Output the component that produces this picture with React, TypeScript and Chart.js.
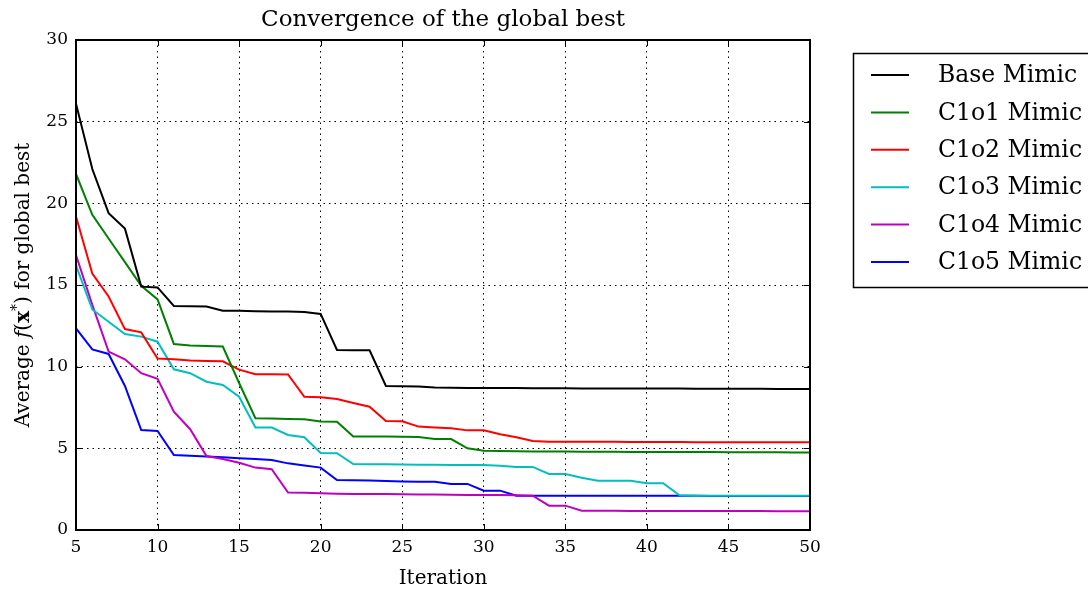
import React, { useEffect, useRef } from 'react';
import { Chart, registerables } from 'chart.js';

Chart.register(...registerables);

const TITLE = 'Convergence of the global best';
const X_TITLE = 'Iteration';
const FONT = "'DejaVu Serif', serif";

const iterations = [5, 6, 7, 8, 9, 10, 11, 12, 13, 14, 15, 16, 17, 18, 19, 20, 21, 22, 23, 24, 25, 26, 27, 28, 29, 30, 31, 32, 33, 34, 35, 36, 37, 38, 39, 40, 41, 42, 43, 44, 45, 46, 47, 48, 49, 50];

const xTicks = [5, 10, 15, 20, 25, 30, 35, 40, 45, 50];
const yTicks = [0, 5, 10, 15, 20, 25, 30];

const seriesLabels = ['Base Mimic', 'C1o1 Mimic', 'C1o2 Mimic', 'C1o3 Mimic', 'C1o4 Mimic', 'C1o5 Mimic'];
const seriesColors = ['#000000', '#008000', '#ff0000', '#00bfbf', '#bf00bf', '#0000ff'];

const baseMimic = [26.1, 22.1, 19.4, 18.45, 14.9, 14.85, 13.72, 13.7, 13.68, 13.43, 13.42, 13.4, 13.38, 13.37, 13.35, 13.23, 11.02, 11.01, 11.0, 8.82, 8.8, 8.78, 8.72, 8.71, 8.7, 8.7, 8.69, 8.69, 8.68, 8.68, 8.68, 8.67, 8.67, 8.67, 8.66, 8.66, 8.66, 8.66, 8.65, 8.65, 8.65, 8.65, 8.65, 8.64, 8.64, 8.64];
const c1o1Mimic = [21.8, 19.3, 17.85, 16.4, 14.95, 14.12, 11.39, 11.3, 11.27, 11.23, 9.0, 6.84, 6.82, 6.8, 6.78, 6.65, 6.63, 5.72, 5.72, 5.72, 5.71, 5.7, 5.57, 5.57, 5.0, 4.85, 4.83, 4.82, 4.81, 4.8, 4.8, 4.79, 4.79, 4.79, 4.78, 4.78, 4.78, 4.77, 4.77, 4.77, 4.76, 4.76, 4.76, 4.76, 4.75, 4.75];
const c1o2Mimic = [19.2, 15.7, 14.3, 12.3, 12.1, 10.5, 10.45, 10.38, 10.35, 10.33, 9.82, 9.54, 9.53, 9.52, 8.16, 8.13, 8.02, 7.78, 7.55, 6.67, 6.66, 6.33, 6.28, 6.23, 6.1, 6.1, 5.86, 5.68, 5.45, 5.41, 5.4, 5.4, 5.4, 5.4, 5.39, 5.39, 5.39, 5.39, 5.38, 5.38, 5.38, 5.38, 5.38, 5.37, 5.37, 5.37];
const c1o3Mimic = [16.2, 13.5, 12.75, 12.0, 11.84, 11.53, 9.84, 9.6, 9.08, 8.88, 8.16, 6.28, 6.27, 5.82, 5.68, 4.72, 4.7, 4.04, 4.03, 4.02, 4.01, 4.0, 3.99, 3.98, 3.98, 3.98, 3.94, 3.86, 3.86, 3.43, 3.43, 3.2, 3.02, 3.02, 3.02, 2.86, 2.86, 2.12, 2.1, 2.1, 2.1, 2.1, 2.09, 2.09, 2.09, 2.09];
const c1o4Mimic = [16.84, 13.78, 10.92, 10.45, 9.6, 9.25, 7.25, 6.17, 4.53, 4.35, 4.12, 3.82, 3.72, 2.29, 2.28, 2.25, 2.22, 2.21, 2.2, 2.2, 2.19, 2.18, 2.17, 2.16, 2.15, 2.15, 2.14, 2.12, 2.1, 1.49, 1.49, 1.18, 1.18, 1.18, 1.17, 1.17, 1.17, 1.17, 1.16, 1.16, 1.16, 1.16, 1.16, 1.15, 1.15, 1.15];
const c1o5Mimic = [12.35, 11.06, 10.78, 8.82, 6.12, 6.06, 4.59, 4.55, 4.5, 4.45, 4.39, 4.35, 4.29, 4.08, 3.95, 3.82, 3.06, 3.05, 3.03, 3.0, 2.97, 2.96, 2.96, 2.82, 2.82, 2.41, 2.41, 2.1, 2.1, 2.1, 2.1, 2.1, 2.1, 2.09, 2.09, 2.09, 2.09, 2.09, 2.09, 2.08, 2.08, 2.08, 2.08, 2.08, 2.08, 2.08];

const seriesValues = [baseMimic, c1o1Mimic, c1o2Mimic, c1o3Mimic, c1o4Mimic, c1o5Mimic];

const overlayPlugin = {
  id: 'overlay',
  afterDraw(chart: any) {
    const ctx = chart.ctx as CanvasRenderingContext2D;
    const { left, right, top, bottom } = chart.chartArea;
    const xs = chart.scales.x;
    const ys = chart.scales.y;
    ctx.save();
    ctx.strokeStyle = '#000';
    ctx.fillStyle = '#000';
    ctx.lineWidth = 1;
    const tl = 6;
    ctx.beginPath();
    xTicks.forEach((v) => {
      const px = Math.round(xs.getPixelForValue(v)) + 0.5;
      ctx.moveTo(px, bottom);
      ctx.lineTo(px, bottom - tl);
      ctx.moveTo(px, top);
      ctx.lineTo(px, top + tl);
    });
    yTicks.forEach((v) => {
      const py = Math.round(ys.getPixelForValue(v)) + 0.5;
      ctx.moveTo(left, py);
      ctx.lineTo(left + tl, py);
      ctx.moveTo(right, py);
      ctx.lineTo(right - tl, py);
    });
    ctx.stroke();
    ctx.lineWidth = 2;
    ctx.strokeRect(left, top, right - left, bottom - top);

    // Title
    ctx.textAlign = 'center';
    ctx.textBaseline = 'middle';
    ctx.font = `23px ${FONT}`;
    ctx.fillText(TITLE, (left + right) / 2, 20);

    // X title
    ctx.font = `20px ${FONT}`;
    ctx.fillText(X_TITLE, (left + right) / 2, 579);

    // Y title with mixed styles
    const pieces = [
      { t: 'Average ', f: `20px ${FONT}`, dy: 0 },
      { t: 'f', f: `italic 20px ${FONT}`, dy: 0 },
      { t: '(', f: `20px ${FONT}`, dy: 0 },
      { t: 'x', f: `bold 20px ${FONT}`, dy: 0 },
      { t: '*', f: `14px ${FONT}`, dy: -8 },
      { t: ') for global best', f: `20px ${FONT}`, dy: 0 },
    ];
    let total = 0;
    pieces.forEach((p) => {
      ctx.font = p.f;
      total += ctx.measureText(p.t).width;
    });
    ctx.translate(22, (top + bottom) / 2);
    ctx.rotate(-Math.PI / 2);
    ctx.textAlign = 'left';
    ctx.textBaseline = 'alphabetic';
    let cx = -total / 2;
    pieces.forEach((p) => {
      ctx.font = p.f;
      ctx.fillText(p.t, cx, 7 + p.dy);
      cx += ctx.measureText(p.t).width;
    });
    ctx.setTransform(1, 0, 0, 1, 0, 0);

    // Legend
    const bx = 853.5, by = 53.5, bh = 234;
    ctx.lineWidth = 1.5;
    ctx.strokeStyle = '#000';
    ctx.fillStyle = '#fff';
    ctx.fillRect(bx, by, 1100 - bx, bh);
    ctx.strokeRect(bx, by, 1100 - bx, bh);
    ctx.font = `23.5px ${FONT}`;
    ctx.textBaseline = 'middle';
    ctx.textAlign = 'left';
    chart.data.datasets.forEach((ds: any, i: number) => {
      const y = 75 + i * 37.4;
      ctx.strokeStyle = ds.borderColor;
      ctx.lineWidth = 2;
      ctx.beginPath();
      ctx.moveTo(871, y);
      ctx.lineTo(909, y);
      ctx.stroke();
      ctx.fillStyle = '#000';
      ctx.fillText(ds.label, 938, y + 1);
    });
    ctx.restore();
  },
};

export default function App() {
  const ref = useRef<HTMLCanvasElement | null>(null);
  useEffect(() => {
    if (!ref.current) return;
    const datasets = seriesLabels.map((label, i) => ({
      label,
      data: iterations.map((it, j) => ({ x: it, y: seriesValues[i][j] })),
      borderColor: seriesColors[i],
      backgroundColor: seriesColors[i],
      borderWidth: 2,
      pointRadius: 0,
      tension: 0,
      fill: false,
    }));
    const chart = new Chart(ref.current, {
      type: 'line',
      data: { datasets },
      options: {
        responsive: false,
        animation: false,
        devicePixelRatio: 1,
        layout: { padding: { left: 0, top: 40, right: 278, bottom: 0 } },
        plugins: { legend: { display: false }, title: { display: false }, tooltip: { enabled: false } },
        scales: {
          x: {
            type: 'linear',
            min: 5,
            max: 50,
            afterBuildTicks: (scale: any) => {
              scale.ticks = xTicks.map((v) => ({ value: v }));
            },
            afterFit: (scale: any) => {
              scale.height = 64;
            },
            ticks: { color: '#000', font: { family: FONT, size: 17 }, padding: 7, maxRotation: 0 },
            grid: { color: '#000', lineWidth: 1, drawTicks: false },
            border: { display: false, dash: [1.5, 4] },
          },
          y: {
            type: 'linear',
            min: 0,
            max: 30,
            afterBuildTicks: (scale: any) => {
              scale.ticks = yTicks.map((v) => ({ value: v }));
            },
            afterFit: (scale: any) => {
              scale.width = 76;
            },
            ticks: { color: '#000', font: { family: FONT, size: 17 }, padding: 8 },
            grid: { color: '#000', lineWidth: 1, drawTicks: false },
            border: { display: false, dash: [1.5, 4] },
          },
        },
      },
      plugins: [overlayPlugin],
    } as any);
    return () => chart.destroy();
  }, []);
  return (
    <div style={{ position: 'fixed', left: 0, top: 0, width: 1088, height: 594, background: '#fff' }}>
      <canvas ref={ref} width={1088} height={594} />
    </div>
  );
}
